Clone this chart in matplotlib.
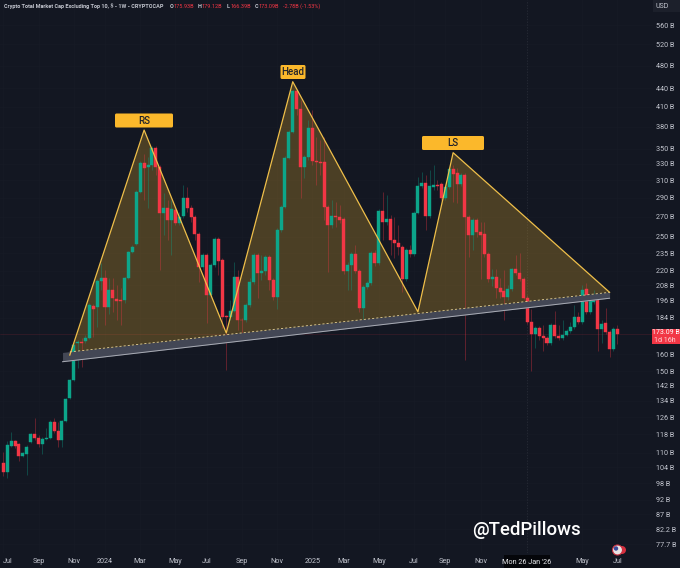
import pandas as pd
import matplotlib
matplotlib.use('Agg')
from matplotlib import pyplot as plt
from matplotlib import dates as mdates
from matplotlib.patches import FancyBboxPatch, Circle
from matplotlib.ticker import NullLocator
from matplotlib.transforms import IdentityTransform

W, H = 680, 568
BG = '#131722'
GREEN = '#0ca58a'
RED = '#f23645'
GOLD = '#efbf4a'
TXT = '#c3c6cf'

# weekly candles, $B
opens = [105.9, 102.3, 113, 114.8, 113.8, 108.8, 109.5, 114.4, 118.1, 116.5,
         113.8, 115.8, 116.3, 123.8, 119.6, 115.3, 124.1, 135.3, 145.1, 166.9,
         167.6, 168, 170.2, 192.2, 191.5, 211.4, 213.8, 191.5, 204.3, 197.4,
         197, 196.7, 213.8, 236.1, 243.8, 296.7, 331.2, 326.2, 328.8, 350.7,
         326.2, 273.9, 279.2, 266.6, 277, 263.6, 270.6, 290, 279.2, 269.6,
         252.9, 223, 233.5, 200.5, 224.7, 248, 229, 185, 184.4, 188.5,
         214.6, 182.6, 182.3, 193, 210.6, 233.5, 217.8, 219.6, 231.2, 212.2,
         199, 256.7, 280.2, 337.6, 372.7, 435.6, 406.9, 326.2, 338.9, 378.4,
         333.7, 333, 332.5, 280.2, 261.6, 270.6, 269.6, 267.6, 219.6, 224.7,
         234.3, 219.6, 190.8, 206.6, 209.9, 235.2, 226.4, 276, 264.6, 267.6,
         247.1, 244.2, 240.7, 213, 237.9, 234.3, 273.9, 303.4, 307, 270.6,
         302.3, 304.7, 305.9, 290, 302.3, 323.7, 318.8, 305.9, 316.5, 269.6,
         251.9, 266.6, 254.7, 252.9, 234.3, 213, 214.6, 205.9, 203.5, 199,
         205.1, 221.3, 217.8, 213, 198.2, 180.9, 172.8, 176.8, 171.4, 170,
         167, 178.8, 171.4, 170.3, 172.1, 174.8, 177.7, 184.4, 180.9, 205.1,
         187.8, 195.2, 198.2, 176, 180.2, 174, 163.2, 175.93]
closes = [102.3, 113.3, 115, 112.9, 108.8, 109.8, 112.3, 117.9, 116.3, 113.8,
          115.9, 116.5, 123.8, 119.5, 115.3, 124.1, 134.8, 145.1, 165.7, 167.8,
          167, 170.2, 193, 190, 211.4, 213.8, 191.5, 204.3, 198.2, 196,
          195.6, 213.8, 236.1, 240.7, 296.7, 331.2, 325, 328.8, 350.7, 326.2,
          273.9, 279.2, 266.6, 278, 263.6, 269.6, 290, 279.2, 269.6, 252.9,
          223, 233.5, 200.5, 224.7, 248, 228, 184.4, 184.4, 188.5, 214.6,
          182.3, 182, 193, 210.6, 233.5, 217.8, 219.6, 231.2, 212.2, 199,
          256.7, 280.2, 337.6, 372.7, 435.6, 406.9, 326.2, 338.9, 378.4, 333.7,
          332.4, 331.8, 280.2, 261.6, 270.6, 269.6, 266.6, 219.6, 224.7, 234.3,
          219.6, 190.8, 206.6, 209.9, 235.2, 226.4, 276, 264.6, 267.6, 247.1,
          244.2, 240.7, 213, 237.9, 234.3, 273.9, 303.4, 307, 270.6, 303.4,
          304.7, 303.4, 290, 302.3, 323.7, 317.7, 305.9, 316.5, 269.6, 251.9,
          266.6, 254.7, 251.9, 234.3, 213, 214.6, 205.9, 202.7, 199, 205.1,
          221.3, 217.8, 213, 198.2, 180.9, 172.8, 176.8, 171.4, 170, 167,
          178.8, 171.4, 170, 172.1, 174.8, 177.7, 184.4, 180.9, 204.3, 187.8,
          195.9, 198.2, 176, 179.5, 174, 163.2, 176, 173.09]
highs = [110.3, 115, 119, 115.5, 114.3, 110.3, 113.3, 118.7, 125.4, 117.7,
         116.9, 120.8, 124.6, 125.4, 123.8, 124.6, 135.5, 145.6, 167, 168.9,
         170.2, 172, 194.4, 193.7, 213, 226.4, 220.4, 213.8, 213.8, 208.2,
         205.9, 214.6, 237, 242.3, 298.9, 333.7, 343, 339, 353.4, 353.4,
         328.7, 295.6, 287.7, 287.7, 279.2, 275, 304.7, 302.3, 282.4, 271.7,
         254.8, 235.2, 235.2, 226.4, 250, 250, 230.8, 186, 196.7, 227.6,
         220.4, 183.7, 194.4, 213.8, 235.2, 235.2, 233.5, 233.5, 233.5, 213.8,
         258.7, 282.4, 340, 375.5, 437.3, 437.3, 421, 341.4, 390, 405,
         365.7, 362, 365.7, 282.4, 287.7, 285.5, 282.4, 269.6, 227.5, 236,
         242.9, 221.3, 208.2, 211.4, 237, 237.9, 277.9, 296.7, 293.3, 271.7,
         269.6, 261.6, 242.9, 240, 242.3, 276, 313.9, 320, 316.5, 322.5,
         328.7, 310.5, 308.2, 305.9, 326.2, 328.7, 325, 318.8, 318.8, 271.7,
         268.6, 268.6, 264.6, 264.6, 236.1, 221, 221, 213.8, 220.4, 208.2,
         222, 233, 235, 214.6, 200.5, 190, 178.2, 178.2, 178.8, 171.4,
         180.2, 188.5, 178.8, 182.3, 176, 180.9, 193, 187.8, 208.2, 209.9,
         198.2, 204.3, 199.7, 182.3, 190.8, 175.4, 177.7, 179.12]
lows = [100.7, 99.9, 112.5, 112, 106.6, 108.2, 101.1, 114, 115.5, 112.5,
        109.4, 115.5, 115.9, 118.7, 112.6, 112.6, 123.7, 134.9, 144.6, 151.8,
        152.4, 167, 169.5, 170.8, 177.7, 204.3, 178.8, 186.3, 187.8, 182.3,
        178.8, 194.4, 213, 235.2, 242.9, 295.6, 287.7, 279, 322.5, 316.5,
        220.4, 251.9, 247.1, 233, 261.6, 261.6, 268.6, 275, 264.6, 247.1,
        210.6, 220.4, 180.2, 199, 223, 216.3, 176.8, 150.7, 182.3, 187.8,
        175.4, 171.4, 181, 191.5, 209, 198.2, 212.2, 216.3, 204.3, 196.7,
        190, 254.7, 279.2, 336.3, 371.3, 398, 290, 313, 335, 328.7,
        304.7, 316.5, 266.6, 218.6, 258.7, 259.5, 263.6, 216.9, 204.3, 204.3,
        217.8, 187.8, 178.8, 205.1, 208.2, 223.9, 224.7, 247.1, 261.6, 233.5,
        230.8, 233.5, 202.7, 211.4, 231.2, 232.1, 272.3, 301.1, 256.7, 268.6,
        298.9, 298.9, 287.7, 287.7, 299.9, 285.9, 284.3, 303.5, 156.5, 231.2,
        237.9, 250, 212.9, 231.2, 210.6, 207.4, 198.2, 198.2, 182.3, 196.7,
        203.5, 216.3, 211.4, 197.4, 179.5, 150.2, 163.9, 168.9, 162, 165.7,
        165.7, 170, 168.9, 168.9, 171.4, 173.5, 176.4, 179.5, 179.5, 186.3,
        186.3, 194, 162, 167, 172.8, 158.3, 162, 166.39]

# head and shoulders outline and the neckline band
pattern_dates = ['2023-10-30', '2024-03-11', '2024-08-05', '2024-12-02',
                 '2025-07-14', '2025-09-15', '2026-06-22']
pattern_prices = [159.5, 375.5, 173.5, 451.3, 188, 344.5, 202.5]
band_dates = ['2023-10-17', '2026-06-22']
band_top = [161.1, 202.8]
band_bottom = [155.5, 198]

price_ticks = [560, 520, 480, 440, 410, 380, 350, 330, 310, 290, 270, 250, 235,
               220, 208, 196, 184, 160, 150, 142, 134, 126, 118, 110, 104, 98,
               92, 87, 82.2, 77.7]
price_labels = [f'{p:g} B' for p in price_ticks]
time_ticks = ['2023-07-03', '2023-09-04', '2023-11-06', '2024-01-01', '2024-03-04',
              '2024-05-06', '2024-07-01', '2024-09-02', '2024-11-04', '2025-01-06',
              '2025-03-03', '2025-05-05', '2025-07-07', '2025-09-01', '2025-11-03',
              '2026-05-04', '2026-07-06']
time_labels = ['Jul', 'Sep', 'Nov', '2024', 'Mar', 'May', 'Jul', 'Sep', 'Nov', '2025',
               'Mar', 'May', 'Jul', 'Sep', 'Nov', 'May', 'Jul']
last_price = 173.09
cross_date = '2026-01-26'


def num(d):
    return mdates.date2num(pd.to_datetime(d))


def fx(x):
    return x / W


def fy(y):
    return 1 - y / H


x = num(pd.date_range('2023-07-03', periods=len(opens), freq='W-MON'))

fig = plt.figure(figsize=(W / 100, H / 100), dpi=100, facecolor=BG)
plt.rcParams['font.family'] = ['Roboto', 'DejaVu Sans']
ax = fig.add_axes([0, 15 / H, 653 / W, (H - 15) / H], facecolor=BG)

ax.set_yscale('log')
ax.set_ylim(75.1, 615.9)
ax.set_xlim(x[0] - 5.9, x[0] + 166.1 * 7)
for s in ax.spines.values():
    s.set_visible(False)

ax.yaxis.tick_right()
ax.set_yticks(price_ticks)
ax.set_yticklabels(price_labels)
ax.yaxis.set_minor_locator(NullLocator())
ax.set_xticks(num(time_ticks))
ax.set_xticklabels(time_labels)
ax.get_xticklabels()[0].set_ha('left')
ax.tick_params(axis='both', length=0, labelsize=5.2, labelcolor=TXT)
ax.tick_params(axis='y', pad=2.5)
ax.tick_params(axis='x', pad=3.5)
ax.set_axisbelow(True)
ax.grid(True, color='#171b26', lw=0.5)

# pattern fill sits under the candles
px = list(num(pattern_dates))
ax.fill(px, pattern_prices, color='#f5b82e', alpha=0.25, lw=0, zorder=1.2)

# candles
colors = [GREEN if c >= o else RED for o, c in zip(opens, closes)]
body_low = [min(o, c) for o, c in zip(opens, closes)]
body_h = [abs(c - o) for o, c in zip(opens, closes)]
ax.vlines(x, lows, highs, colors=colors, lw=0.6, alpha=0.4, zorder=1.5)
ax.bar(x, body_h, bottom=body_low, width=5.4, color=colors, lw=0.3, edgecolor=colors, zorder=2)

ax.axhline(last_price, color=RED, lw=0.4, alpha=0.22, zorder=1)
ax.axvline(num(cross_date), color='#2a2e39', lw=0.5, ls=(0, (2, 2)), zorder=1)

# neckline band
bx = num(band_dates)
ax.fill_between(bx, band_bottom, band_top, color='#434755', lw=0, zorder=2.5)
ax.plot(bx, band_bottom, color='#a9acb5', lw=0.7, zorder=2.6)

# pattern outline and dashed neckline
ax.plot(px, pattern_prices, color=GOLD, lw=0.9, zorder=3.2)
ax.plot([px[0], px[-1]], [pattern_prices[0] * 1.012, pattern_prices[-1]], color='#e6d294',
        lw=0.6, ls=(0, (2.5, 2.5)), zorder=3.2)

# labels over the peaks
for name, x0, x1, y0, y1 in [('RS', 115, 173, 113.5, 127.5),
                             ('Head', 280.5, 305.5, 65, 79),
                             ('LS', 422, 484, 136, 150)]:
    box = FancyBboxPatch((x0 + 1, H - y1 + 1), x1 - x0 - 2, y1 - y0 - 2, boxstyle='round,pad=1,rounding_size=1.5',
                         fc='#fbb82b', ec='#fbb82b', lw=0, transform=IdentityTransform(), zorder=5)
    fig.add_artist(box)
    fig.text(fx((x0 + x1) / 2), fy((y0 + y1) / 2 + 0.3), name, color='#20222a', fontsize=7,
             fontweight='medium', ha='center', va='center', zorder=6)

# header
HEAD_SIZE = 4.0
fig.text(fx(4), fy(6), 'Crypto Total Market Cap Excluding Top 10, \\$ - 1W - CRYPTOCAP', color=TXT,
         fontsize=HEAD_SIZE, fontweight='bold', va='center')
for letter, val, xp in [('O', '175.93B', 170), ('H', '179.12B', 198), ('L', '166.39B', 226.7), ('C', '173.09B', 255)]:
    fig.text(fx(xp), fy(6), letter, color=TXT, fontsize=HEAD_SIZE, fontweight='bold', va='center')
    fig.text(fx(xp + 3.5), fy(6), val, color=RED, fontsize=HEAD_SIZE, va='center')
fig.text(fx(283), fy(6), '-2.78B (-1.53%)', color=RED, fontsize=HEAD_SIZE, va='center')

# right axis extras
box = FancyBboxPatch((653, H - 12), 27, 12, boxstyle='square,pad=0', fc='#1c202b', ec='none',
                     transform=IdentityTransform(), zorder=5)
fig.add_artist(box)
fig.text(fx(662), fy(6), 'USD', color=TXT, fontsize=5, ha='center', va='center', zorder=6)
box = FancyBboxPatch((652, H - 344), 27.5, 15, boxstyle='square,pad=0', fc=RED, ec='none',
                     transform=IdentityTransform(), zorder=5)
fig.add_artist(box)
fig.text(fx(665.5), fy(333), '173.09 B', color='white', fontsize=5, ha='center', va='center', zorder=6)
fig.text(fx(664.5), fy(340), '1d 16h', color='#ffd5d8', fontsize=5, ha='center', va='center', zorder=6)

# hovered date on the time axis
box = FancyBboxPatch((504, 0), 46, 13, boxstyle='square,pad=0', fc='#05060a', ec='none',
                     transform=IdentityTransform(), zorder=5)
fig.add_artist(box)
fig.text(fx(527), fy(562), "Mon 26 Jan '26", color='#e8e9ec', fontsize=5.2, ha='center', va='center', zorder=6)

fig.text(fx(472), fy(530), '@TedPillows', color='white', fontsize=13.4, fontweight='medium', va='center')

# flag badge
fig.add_artist(Circle((622, H - 550), 4, fc='#d8303f', ec='none', transform=IdentityTransform(), zorder=5))
fig.add_artist(Circle((617.5, H - 550), 5, fc='#e9e4e4', ec='#c9303f', lw=0.8, transform=IdentityTransform(), zorder=6))
fig.add_artist(Circle((616, H - 548.5), 2.2, fc='#3a4a9a', ec='none', transform=IdentityTransform(), zorder=7))

plt.savefig('out.png', dpi=100, facecolor=BG)
